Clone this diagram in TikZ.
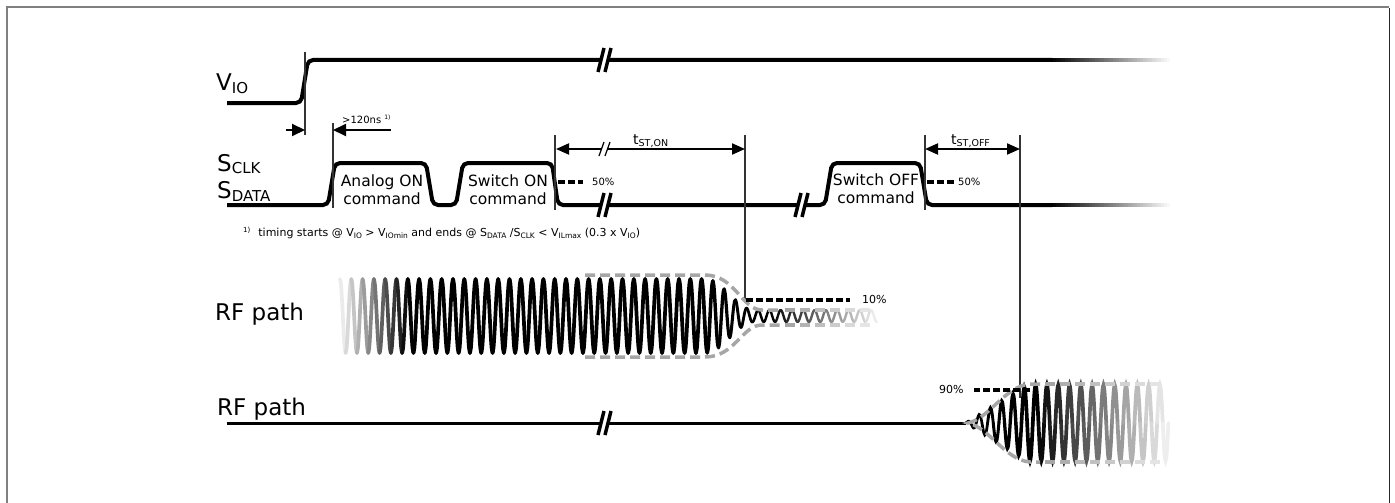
\documentclass[tikz,border=0pt]{standalone}
\usepackage{fontspec}
\setmainfont{DejaVu Sans}
\usetikzlibrary{arrows.meta}

\newcommand{\dn}[3]{\raisebox{-#1pt}{\fontsize{#2}{#2}\selectfont #3}}

\begin{document}
\begin{tikzpicture}[x=1pt, y=-1pt,
  font=\fontsize{23}{27}\selectfont,
  sig/.style={line width=4pt, rounded corners=5pt},
  flat/.style={line width=3pt},
  guide/.style={line width=1.2pt, draw=black!80},
  arr/.style={line width=2pt, -{Triangle[length=13pt,width=12pt]}},
  dim/.style={line width=2pt, {Triangle[length=13pt,width=11pt]}-{Triangle[length=13pt,width=11pt]}},
  lvl/.style={line width=3.5pt, dash pattern=on 7pt off 3pt},
  env/.style={line width=3.5pt, draw=black!35, dash pattern=on 10pt off 5pt},
  cmd/.style={align=center, font=\fontsize{15.5}{18}\selectfont, inner sep=0pt},
  lbl/.style={anchor=base west, inner sep=0pt}
]
\useasboundingbox (0,0) rectangle (1395,503);
\draw[line width=2pt, draw=black!50] (7,503) -- (7,7) -- (1389,7);
\draw[line width=1.5pt, draw=black!85] (1389.5,8) -- (1389.5,503);

% signal names
\node[lbl] (vio) at (216,90) {V\dn{3}{15}{IO}};
\node[lbl] (sclk) at (217,171) {S\dn{2}{15}{CLK}};
\node[lbl] (sdata) at (217,198) {S\dn{3}{15}{DATA}};
\node[lbl] (rf1) at (215,320) {RF path};
\node[lbl] (rf2) at (217,415) {RF path};

% supply and control lines
\draw[sig] (227,103) -- (301,103) -- (308,60) -- (1052,60);
\draw[sig] (227,205) -- (328,205) -- (335,163) -- (426,163) -- (433,205) -- (456,205)
  -- (463,163) -- (552,163) -- (558,205) -- (825,205) -- (832,163) -- (920,163)
  -- (927,205) -- (1052,205);
\foreach \i [evaluate={\i as \s using 100-2.5*\i}, evaluate={\i as \xa using 1050+3*\i}] in {0,...,39}
  \draw[line width=4pt, draw=black!\s] (\xa,60) -- ++(3.3,0) (\xa,205) -- ++(3.3,0);
\draw[flat] (227,423) -- (966,423);

\foreach \bx/\by in {603/60, 603/205, 800/205, 603/423}{
  \fill[white] ({\bx-5},{\by+12}) -- ({\bx+1},{\by-12}) -- ({\bx+8},{\by-12}) -- ({\bx+2},{\by+12}) -- cycle;
  \draw[line width=3.5pt] ({\bx-5},{\by+12}) -- ({\bx+1},{\by-12}) ({\bx+2},{\by+12}) -- ({\bx+8},{\by-12});
}

\node[cmd] (cmdA) at (382,190) {Analog ON\\command};
\node[cmd] (cmdB) at (508,190) {Switch ON\\command};
\node[cmd] (cmdC) at (876,189) {Switch OFF\\command};

% timing marks
\foreach \gx/\gt/\gb in {305/52/135, 333/123/208, 555/135/210, 745/135/300, 925/135/210, 1020/135/398}
  \draw[guide] (\gx,\gt) -- (\gx,\gb);

\coordinate (a0) at (286,130); \coordinate (a1) at (305,130);
\coordinate (a2) at (333,130); \coordinate (a3) at (391,130);
\draw[arr] (a0) -- (a1);
\draw[arr] (a3) -- (a2);
\node[lbl, font=\fontsize{10}{12}\selectfont] (t120) at (342,123) {>120ns \raisebox{4pt}{\fontsize{6}{6}\selectfont 1)}};

\coordinate (on1) at (556,149); \coordinate (on2) at (745,149);
\coordinate (off1) at (925,149); \coordinate (off2) at (1020,149);
\draw[dim] (on1) -- (on2);
\draw[dim] (off1) -- (off2);
\fill[white] (599,156) -- (604,142) -- (610,142) -- (605,156) -- cycle;
\draw[line width=1.2pt] (599,156) -- (604,142) (605,156) -- (610,142);
\node[lbl, font=\fontsize{14}{14}\selectfont] (ton) at (633,144) {t\dn{2}{9.5}{ST,ON}};
\node[lbl, font=\fontsize{14}{14}\selectfont] (toff) at (951,144) {t\dn{2}{9.5}{ST,OFF}};

\node[lbl, font=\fontsize{10}{12}\selectfont] (p50a) at (592,185) {50\%};
\node[lbl, font=\fontsize{10}{12}\selectfont] (p50b) at (958,185) {50\%};
\coordinate (h1) at (558,182); \coordinate (h2) at (927,182);
\draw[lvl, shorten >=9pt] (h1) -- (h1 -| p50a.west);
\draw[lvl, shorten >=3pt] (h2) -- (h2 -| p50b.west);

\node[lbl, font=\fontsize{11}{12}\selectfont] (note) at (243,236)
  {\raisebox{4pt}{\fontsize{7}{7}\selectfont 1)}\hspace{8pt}timing starts @ V\dn{2}{7.5}{IO} > V\dn{2}{7.5}{IOmin} and ends @ S\dn{2}{7.5}{DATA} /S\dn{2}{7.5}{CLK} < V\dn{2}{7.5}{ILmax} (0.3 x V\dn{2}{7.5}{IO})};

% RF path, switching off
\foreach \i [evaluate={\i as \xa using 340+5.65*\i},
             evaluate={\i as \xb using 345.65+5.65*\i},
             evaluate={\i as \sg using 1-2*mod(\i,2)},
             evaluate={\i as \s using max(8,min(100,(\xa-335)*1.4,(880-\xa)*0.9))},
             evaluate={\i as \w using 2.4+1.3*min(1,max(0,(760-\xa)/60))}] in {0,...,94}
  \draw[draw=black!\s, line width=\w pt, line cap=round]
    plot[domain=\xa:\xb, samples=7, smooth]
    (\x,{316-\sg*(6+31*(1+cos(180*min(max((\x-705)/50,0),1)))/2)*cos(31.858*(\x-\xa))});
\draw[env] (585,275) -- (705,275) .. controls (735,275) and (742,310) .. (762,310) -- (782,310);
\draw[env] (585,357) -- (705,357) .. controls (735,357) and (742,325) .. (762,325) -- (782,325);
\foreach \i [evaluate={\i as \xa using 785+15*\i}, evaluate={\i as \s using 35-5*\i}] in {0,...,5}
  \draw[line width=3.5pt, draw=black!\s] (\xa,310) -- ++(10,0) (\xa,325) -- ++(10,0);
\node[lbl, font=\fontsize{11}{12}\selectfont] (p10) at (862,303) {10\%};
\coordinate (h3) at (746,300);
\draw[lvl, shorten >=12pt] (h3) -- (h3 -| p10.west);

% RF path, switching on
\foreach \i [evaluate={\i as \xa using 965+5.65*\i},
             evaluate={\i as \xb using 970.65+5.65*\i},
             evaluate={\i as \sg using 1-2*mod(\i,2)},
             evaluate={\i as \s using max(6,min(100,(1172-\xa)*0.72))},
             evaluate={\i as \w using 2.4+1.3*min(1,max(0,(\xa-965)/60))}] in {0,...,35}
  \draw[draw=black!\s, line width=\w pt, line cap=round]
    plot[domain=\xa:\xb, samples=7, smooth]
    (\x,{423-\sg*38*min(1,max(0,(\x-965)/63))*sin(31.858*(\x-\xa))});
\draw[env] (1040,384) -- (1030,384) .. controls (1005,386) and (990,418) .. (968,423)
  .. controls (990,428) and (1005,460) .. (1030,462) -- (1040,462);
\foreach \i [evaluate={\i as \xa using 1045+15*\i}, evaluate={\i as \s using 35-3.5*\i}] in {0,...,7}
  \draw[line width=3.5pt, draw=black!\s] (\xa,384) -- ++(10,0) (\xa,462) -- ++(10,0);
\node[lbl, font=\fontsize{11}{12}\selectfont] (p90) at (939,393) {90\%};
\coordinate (h4) at (1030,390);
\draw[lvl, shorten >=10pt] (h4) -- (h4 -| p90.east);
\end{tikzpicture}
\end{document}
